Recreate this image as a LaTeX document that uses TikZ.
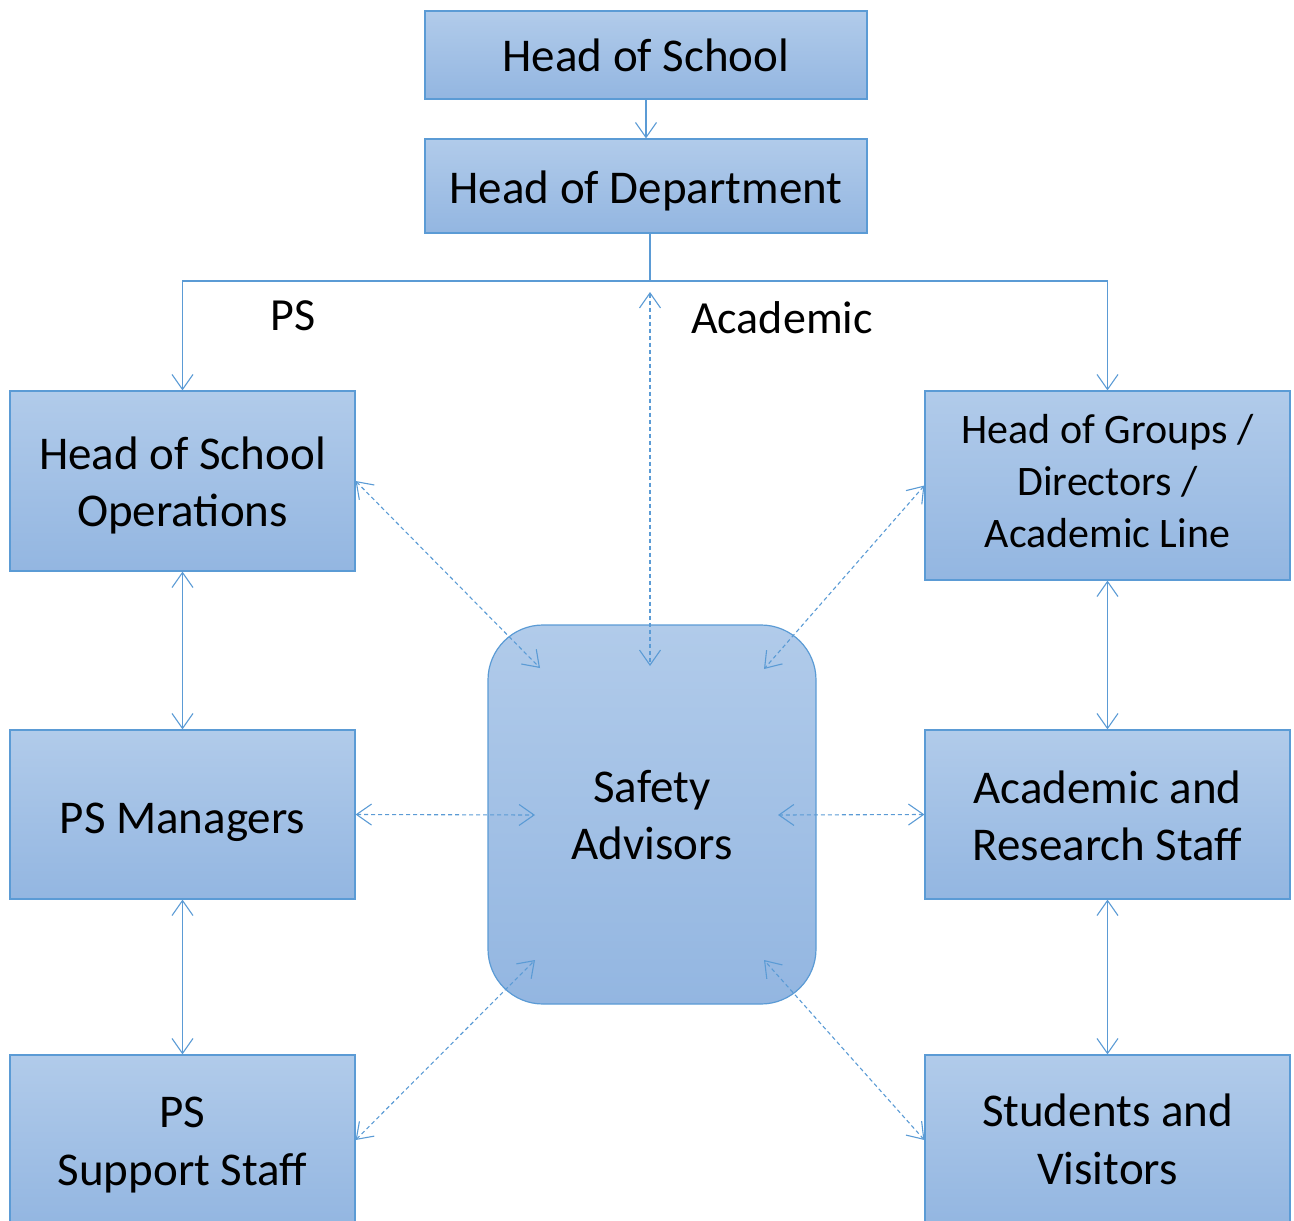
\documentclass[tikz,border=0pt]{standalone}
\usepackage{fontspec}
\setmainfont{Carlito}
\usetikzlibrary{arrows.meta,calc}
\definecolor{bdr}{HTML}{5B9BD5}
\definecolor{topc}{HTML}{B1CBEA}
\definecolor{botc}{HTML}{93B6E1}
\tikzset{
  box/.style={draw=bdr, line width=1.2pt, top color=topc, bottom color=botc,
    inner sep=0pt, align=center, text depth=0pt, font=\fontsize{47}{57.5}\selectfont},
  lbl/.style={inner sep=0pt, anchor=base, font=\fontsize{46}{56}\selectfont},
  vbarb/.tip={Straight Barb[length=15pt,width=21pt,line width=1.1pt]},
  solidarrow/.style={draw=bdr, line width=1.1pt},
  dotarrow/.style={draw=bdr, line width=1.1pt, dash pattern=on 4pt off 3pt},
}
\begin{document}
\begin{tikzpicture}[x=1pt,y=-1pt]
\useasboundingbox (0,0) rectangle (1294,1221);
% nodes
\node[box, minimum width=442pt, minimum height=88pt, text height=33pt] (hos) at (646,55) {Head of School};
\node[box, minimum width=442pt, minimum height=94pt, text height=34pt] (hod) at (646,186) {Head of Department};
\node[box, minimum width=345pt, minimum height=180pt, text height=91pt] (hso) at (182.5,481) {Head of School\\Operations};
\node[box, minimum width=345pt, minimum height=169pt, text height=38pt] (psm) at (182.5,814.5) {PS Managers};
\node[box, minimum width=345pt, minimum height=170pt, text height=90pt] (pss) at (182.5,1140) {PS\\Support Staff};
\node[box, minimum width=365pt, minimum height=189pt, text height=124pt, font=\fontsize{42}{52}\selectfont] (hog) at (1107.5,485.5) {Head of Groups /\\Directors /\\Academic Line};
\node[box, minimum width=365pt, minimum height=169pt, text height=92pt] (ars) at (1107.5,814.5) {Academic and\\Research Staff};
\node[box, minimum width=365pt, minimum height=170pt, text height=88pt] (sv) at (1107.5,1140) {Students and\\Visitors};
\node[box, minimum width=328pt, minimum height=379pt, text height=90pt, rounded corners=55pt] (sa) at (652,814.5) {Safety\\Advisors};
\node[lbl] (ps) at (293,330) {PS};
\node[lbl] (acad) at (782,333.5) {Academic};
% coordinates
\coordinate (j) at (650,281);
\coordinate (jd) at (650,292);
\coordinate (saN) at (650,666);
\coordinate (saNW) at (540,668);
\coordinate (saNE) at (764,669);
\coordinate (saW) at (535,815);
\coordinate (saE) at (778,815);
\coordinate (saSW) at (535,960);
\coordinate (saSE) at (764,960);
% solid connectors
\draw[solidarrow, -{vbarb}] (hos.south) -- (hod.north);
\draw[solidarrow] (hod.south -| j) -- (j);
\draw[solidarrow, {vbarb}-{vbarb}] (hso.north) |- (j) -| (hog.north);
\draw[solidarrow, {vbarb}-{vbarb}] (hso.south) -- (psm.north);
\draw[solidarrow, {vbarb}-{vbarb}] (psm.south) -- (pss.north);
\draw[solidarrow, {vbarb}-{vbarb}] (hog.south) -- (ars.north);
\draw[solidarrow, {vbarb}-{vbarb}] (ars.south) -- (sv.north);
% dotted connectors
\draw[dotarrow, {vbarb}-{vbarb}] (jd) -- (saN);
\draw[dotarrow, {vbarb}-{vbarb}] (hso.east) -- (saNW);
\draw[dotarrow, {vbarb}-{vbarb}] (hog.west) -- (saNE);
\draw[dotarrow, {vbarb}-{vbarb}] (psm.east) -- (saW);
\draw[dotarrow, {vbarb}-{vbarb}] (ars.west) -- (saE);
\draw[dotarrow, {vbarb}-{vbarb}] (pss.east) -- (saSW);
\draw[dotarrow, {vbarb}-{vbarb}] (sv.west) -- (saSE);
\end{tikzpicture}
\end{document}
